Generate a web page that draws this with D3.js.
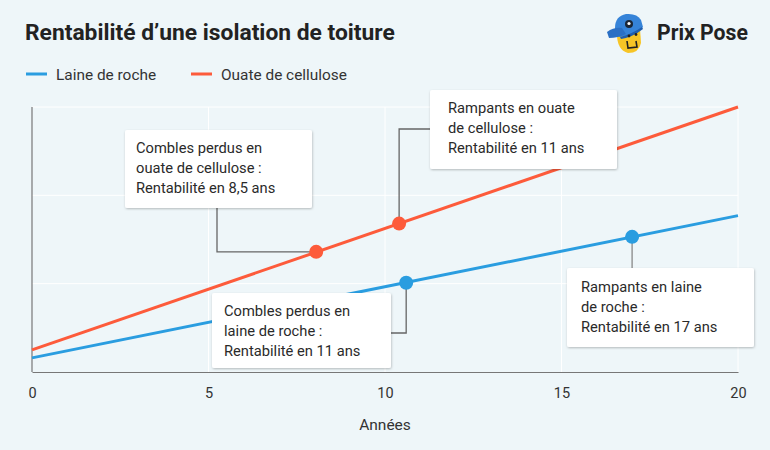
<!DOCTYPE html>
<html><head><meta charset="utf-8">
<script src="https://cdn.jsdelivr.net/npm/d3@7"></script>
<style>
body{margin:0;background:#eef6f9;}
svg{display:block;font-family:Roboto,"Open Sans",sans-serif;}
</style></head><body>
<svg id="chart" width="770" height="450"></svg>
<script>
// Data
const years = [0, 20];
const laineValues = [16, 177];
const ouateValues = [25, 300];
const xTicks = [0, 5, 10, 15, 20];
const yGrid = [0, 100, 200, 300];
const seriesNames = ["Laine de roche", "Ouate de cellulose"];
const seriesColors = ["#2a9de0", "#fd5b3b"];
// Markers: [series index, year, value]
const markerSeries = [1, 1, 0, 0];
const markerYears = [8.05, 10.4, 10.6, 17.0];
const markerValues = [136, 168, 101, 153];
const annotationTexts = [
  ["Combles perdus en", "ouate de cellulose :", "Rentabilité en 8,5 ans"],
  ["Rampants en ouate", "de cellulose :", "Rentabilité en 11 ans"],
  ["Combles perdus en", "laine de roche :", "Rentabilité en 11 ans"],
  ["Rampants en laine", "de roche :", "Rentabilité en 17 ans"]
];

const svg = d3.select("#chart");
svg.append("rect").attr("width",770).attr("height",450).attr("fill","#eef6f9");

const defs = svg.append("defs");
const f = defs.append("filter").attr("id","sh").attr("x","-10%").attr("y","-10%").attr("width","120%").attr("height","130%");
f.append("feDropShadow").attr("dx",0.5).attr("dy",1).attr("stdDeviation",1).attr("flood-color","#000").attr("flood-opacity",0.25);

const x = d3.scaleLinear().domain([0,20]).range([32,738]);
const y = d3.scaleLinear().domain([0,300]).range([372,107]);

// Title
svg.append("text").attr("x",25).attr("y",40).attr("font-size",22.8).attr("font-weight",700)
  .attr("fill","#222").text("Rentabilité d’une isolation de toiture");

// Logo
const logo = svg.append("g").attr("transform","translate(606,10)");
logo.append("path").attr("d","M11 24 Q11 40 22 43 Q33 43 35 33 L34 18 Z").attr("fill","#f7c526");
logo.append("path").attr("d","M9 18 Q9 6 20 4 Q31 3 35 10 L37 17 Q30 24 14 27 L9 25 Z").attr("fill","#3583d8");
logo.append("path").attr("d","M1 22 Q8 17 16 18 L20 24 Q12 28 3 28 Z").attr("fill","#2a6fc4");
logo.append("path").attr("d","M14 27 Q26 24 36 17 L37 19 Q27 27 15 29 Z").attr("fill","#1f5eae");
logo.append("circle").attr("cx",23).attr("cy",14).attr("r",4).attr("fill","#1a2636");
logo.append("circle").attr("cx",23).attr("cy",13.5).attr("r",1.6).attr("fill","#fff");
logo.append("path").attr("d","M21 31 L22 38 L31 37 L30 31").attr("fill","none").attr("stroke","#222").attr("stroke-width",1.6);
logo.append("circle").attr("cx",23).attr("cy",26).attr("r",1.4).attr("fill","#222");
logo.append("circle").attr("cx",30).attr("cy",24.5).attr("r",1.4).attr("fill","#222");
svg.append("text").attr("x",657).attr("y",40).attr("font-size",21.2).attr("font-weight",700)
  .attr("fill","#222").text("Prix Pose");

// Legend
const legX = [26, 191];
seriesNames.forEach((n,i)=>{
  svg.append("line").attr("x1",legX[i]).attr("x2",legX[i]+21).attr("y1",74).attr("y2",74)
    .attr("stroke",seriesColors[i]).attr("stroke-width",3);
  svg.append("text").attr("x",legX[i]+30).attr("y",79.5).attr("font-size",15.4).attr("fill","#333").text(n);
});

// Grid
svg.append("g").selectAll("line").data(yGrid.slice(1)).join("line")
  .attr("x1",x(0)).attr("x2",x(20)).attr("y1",d=>y(d)).attr("y2",d=>y(d))
  .attr("stroke","#fff").attr("stroke-width",1);
svg.append("g").selectAll("line").data(xTicks.slice(1)).join("line")
  .attr("x1",d=>x(d)).attr("x2",d=>x(d)).attr("y1",y(0)).attr("y2",y(300))
  .attr("stroke","#fff").attr("stroke-width",1);

// Axes
svg.append("line").attr("x1",x(0)).attr("x2",x(0)).attr("y1",y(300)).attr("y2",y(0)).attr("stroke","#777").attr("stroke-width",1.2);
const xAxis = svg.append("g").attr("transform",`translate(0,${y(0)})`)
  .call(d3.axisBottom(x).tickValues(xTicks).tickSize(0).tickPadding(16));
xAxis.select(".domain").attr("stroke","#777").attr("stroke-width",1.2);
xAxis.selectAll("text").attr("font-size",14.5).attr("fill","#333").attr("font-family","Roboto, sans-serif");
svg.append("text").attr("x",385).attr("y",430).attr("text-anchor","middle").attr("font-size",15.5)
  .attr("fill","#333").text("Années");

// Lines
const line = d3.line().x(d=>x(d[0])).y(d=>y(d[1]));
[laineValues, ouateValues].forEach((vals,i)=>{
  svg.append("path").datum(years.map((yr,k)=>[yr, vals[k]])).attr("d",line)
    .attr("fill","none").attr("stroke",seriesColors[i]).attr("stroke-width",3);
});

// Annotations: connectors
const conn = svg.append("g").attr("fill","none").attr("stroke","#666").attr("stroke-width",1.3);
const mx = i=>x(markerYears[i]), my = i=>y(markerValues[i]);
conn.append("path").attr("d",`M217,208 V${my(0)} H${mx(0)}`);
conn.append("path").attr("d",`M430,129 H${mx(1)} V${my(1)}`);
conn.append("path").attr("d",`M391,333 H${mx(2)} V${my(2)}`);
conn.append("path").attr("d",`M${mx(3)},268 V${my(3)}`).attr("stroke","#888");

// Boxes
const boxes = [[125,130,187,78],[430,90,187,79],[212,293,179,75],[567,268,187,79]];
const textLeft = [136,448,224,581];
const textTop = [153,113,316,292];
boxes.forEach((b,i)=>{
  svg.append("rect").attr("x",b[0]).attr("y",b[1]).attr("width",b[2]).attr("height",b[3])
    .attr("rx",2).attr("fill","#fff").attr("filter","url(#sh)");
  const t = svg.append("text").attr("font-size",14.7).attr("fill","#2a2a2a");
  annotationTexts[i].forEach((s,k)=>{
    t.append("tspan").attr("x",textLeft[i]).attr("y",textTop[i]+k*20).text(s);
  });
});

// Markers
svg.append("g").selectAll("circle").data(markerYears).join("circle")
  .attr("cx",(d,i)=>mx(i)).attr("cy",(d,i)=>my(i)).attr("r",7)
  .attr("fill",(d,i)=>seriesColors[markerSeries[i]]);
</script>
</body></html>
